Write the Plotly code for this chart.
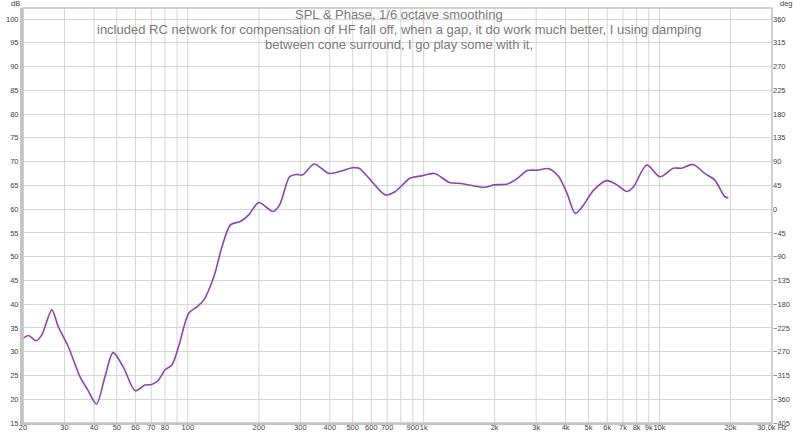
import numpy as np
import plotly.graph_objects as go

# ---- data ----
freq_hz = [20, 21.1, 22.7, 24.0, 26.5, 28.2, 31.1, 34.9, 37.7, 41.0, 44.5, 48.2, 53.2,
           59.8, 65.8, 70.3, 75.0, 80.1, 85.6, 91.4, 100.9, 109.6, 117, 129, 139.6,
           151.6, 167, 181.3, 200, 229.6, 245, 270, 288, 307, 343, 397, 440, 499,
           532, 596, 688, 758, 875, 980, 1113, 1286, 1440, 1808, 1992, 2268, 2499,
           2753, 3032, 3397, 3742, 4055, 4398, 4771, 5257, 5985, 6596, 7269, 7760,
           8830, 10050, 11440, 12400, 13890, 15560, 17160, 18920, 19600]
spl_db = [32.8, 33.4, 32.3, 33.5, 38.8, 35.3, 31.1, 24.7, 21.9, 19.0, 24.7, 29.8, 26.8,
          21.8, 23.0, 23.1, 24.0, 26.2, 27.2, 31.1, 38.1, 39.5, 40.9, 45.8, 52.1,
          56.7, 57.4, 58.8, 61.4, 59.5, 60.9, 66.8, 67.3, 67.2, 69.5, 67.5, 67.9, 68.7,
          68.6, 66.1, 63.0, 63.7, 66.5, 67.0, 67.5, 65.6, 65.4, 64.6, 65.1, 65.3, 66.5,
          68.1, 68.2, 68.5, 66.8, 63.3, 59.1, 60.9, 64.0, 66.0, 65.1, 63.7, 64.7,
          69.3, 66.8, 68.6, 68.6, 69.4, 67.5, 66.1, 62.6, 62.4]

x_tickvals = [20, 30, 40, 50, 60, 70, 80, 100, 200, 300, 400, 500, 600, 700, 900,
              1000, 2000, 3000, 4000, 5000, 6000, 7000, 8000, 9000, 10000, 20000, 30000]
x_ticktext = ["20", "30", "40", "50", "60", "70", "80", "100", "200", "300", "400",
              "500", "600", "700", "900", "1k", "2k", "3k", "4k", "5k", "6k", "7k",
              "8k", "9k", "10k", "20k", "30,0k Hz"]
x_grid = [20, 30, 40, 50, 60, 70, 80, 90, 100, 200, 300, 400, 500, 600, 700, 800, 900,
          1000, 2000, 3000, 4000, 5000, 6000, 7000, 8000, 9000, 10000, 20000, 30000]
db_ticks = list(range(15, 101, 5))
deg_ticks = list(range(-405, 361, 45))

title_lines = ["SPL & Phase, 1/6 octave smoothing",
               "included RC network for compensation of HF fall off, when a gap, it do work much better, I using damping",
               "between cone surround, I go play some with it,"]

# ---- figure ----
W, H = 800, 435
L, R, T, B = 23, 772, 8, 423
ymin = 15
ymax = 15 + (B - T) / ((B - 19) / 85.0)
deg_min = -405
deg_max = (ymax - 15) * 9 - 405

grid_col = "#d6d6d6"
frame_col = "#c4c4c4"
tick_font = dict(family="Liberation Sans, Arial, sans-serif", size=7.5, color="#444444")

fig = go.Figure()
fig.add_trace(go.Scatter(x=freq_hz, y=spl_db, mode="lines",
                         line=dict(color="#8E44AD", width=1.6, shape="spline", smoothing=0.8),
                         showlegend=False, hoverinfo="skip"))
fig.add_trace(go.Scatter(x=[None], y=[None], yaxis="y2", showlegend=False, hoverinfo="skip"))

# vertical grid lines (including unlabeled 90 Hz and 800 Hz)
shapes = []
for g in x_grid:
    shapes.append(dict(type="line", xref="x", yref="paper", x0=g, x1=g, y0=0, y1=1,
                       line=dict(color=grid_col, width=1), layer="below"))
# frame
shapes.append(dict(type="rect", xref="paper", yref="paper", x0=0, x1=1, y0=0, y1=1,
                   line=dict(color=frame_col, width=1.5)))

annotations = []
for i, t in enumerate(title_lines):
    py = 14 + 15 * i
    annotations.append(dict(text=t, xref="paper", yref="paper",
                            x=(399 - L) / (R - L), y=(B - py) / (B - T),
                            xanchor="center", yanchor="middle", showarrow=False,
                            font=dict(family="Liberation Sans, Arial, sans-serif", size=13,
                                      color="#7a7a7a")))
annotations.append(dict(text="dB", xref="paper", yref="paper", x=(15 - L) / (R - L),
                        y=(B - 4) / (B - T), xanchor="center", yanchor="middle",
                        showarrow=False, font=tick_font))
annotations.append(dict(text="deg", xref="paper", yref="paper", x=(786 - L) / (R - L),
                        y=(B - 4) / (B - T), xanchor="center", yanchor="middle",
                        showarrow=False, font=tick_font))

fig.update_layout(
    width=W, height=H,
    margin=dict(l=L, r=W - R, t=T, b=H - B, pad=0, autoexpand=False),
    paper_bgcolor="white", plot_bgcolor="white",
    xaxis=dict(type="log", range=[np.log10(20), np.log10(30000)],
               tickvals=x_tickvals, ticktext=x_ticktext, tickfont=tick_font,
               tickangle=0, automargin=False, ticklabelstandoff=-4,
               showgrid=False, zeroline=False, ticks="", ticklen=0,
               showline=True, linecolor=frame_col, linewidth=2),
    yaxis=dict(range=[ymin, ymax], tickvals=db_ticks, tickfont=tick_font,
               automargin=False,
               showgrid=True, gridcolor=grid_col, gridwidth=1, zeroline=False,
               ticks="", showline=True, linecolor=frame_col, linewidth=3),
    yaxis2=dict(range=[deg_min, deg_max], tickvals=deg_ticks, tickfont=tick_font,
                automargin=False,
                overlaying="y", side="right", showgrid=False, zeroline=False,
                ticks="", showline=False),
    shapes=shapes, annotations=annotations,
)

fig.write_html("out.html", config={"displayModeBar": False},
               post_script="document.body.style.margin='0px';document.body.style.overflow='hidden';")
